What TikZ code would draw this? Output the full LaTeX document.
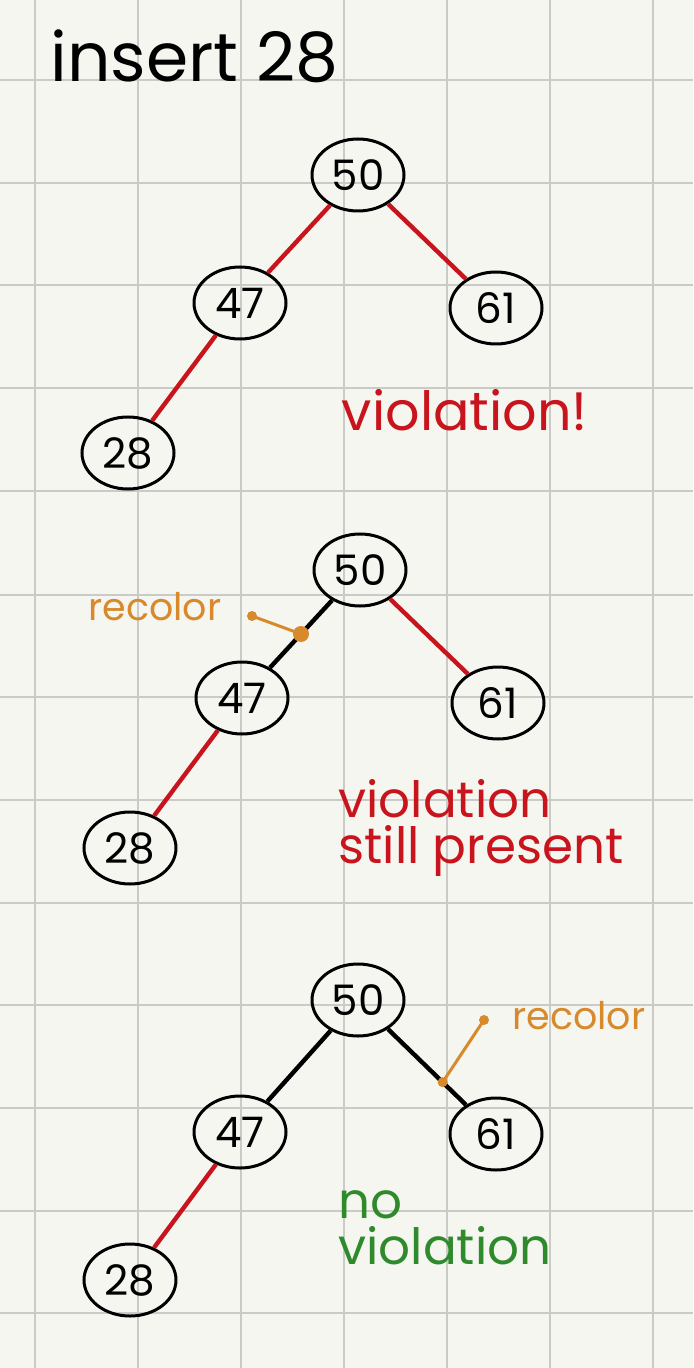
\documentclass[tikz,border=0pt]{standalone}
\usepackage{fontspec}
\setmainfont{Poppins}
\usetikzlibrary{positioning, shapes.geometric}
\definecolor{paper}{HTML}{F6F6F1}
\definecolor{gridgray}{HTML}{CACAC7}
\definecolor{inkred}{HTML}{C8141C}
\definecolor{inkorange}{HTML}{D8892C}
\definecolor{inkgreen}{HTML}{2F8A2C}
\tikzstyle{treenode} = [ellipse, draw=black, line width=1.5pt, minimum width=46pt, minimum height=36pt, inner sep=0pt, font=\fontsize{21}{21}\selectfont]
\tikzstyle{rededge} = [line width=2.2pt, draw=inkred]
\tikzstyle{blackedge} = [line width=2.2pt, draw=black]
\tikzstyle{note} = [inner sep=0pt, align=left, font=\fontsize{25}{23}\selectfont]
\tikzstyle{pointer} = [line width=1.5pt, draw=inkorange]
\tikzstyle{gridline} = [line width=1pt, draw=gridgray]

\begin{document}
\begin{tikzpicture}[x=0.5pt, y=-0.5pt, on grid]
        \useasboundingbox[fill=paper] (0,0) rectangle (693,1368);
        \foreach \gx in {35,138,241,344,447,550,653}
            \draw[gridline] (\gx,0) -- (\gx,1368);
        \foreach \gy in {80,183,285,388,491,595,697,800,903,1005,1108,1211,1313}
            \draw[gridline] (0,\gy) -- (693,\gy);

        \node (title) [note, anchor=base west, font=\fontsize{34}{34}\selectfont] at (50,82) {insert 28};

        \node (a50) [treenode] at (358,175) {50};
        \node (a47) [treenode, below left=64pt and 59pt of a50] {47};
        \node (a61) [treenode, below right=66.5pt and 69pt of a50] {61};
        \node (a28) [treenode, below left=75pt and 56pt of a47] {28};
        \node (warn1) [note, text=inkred, font=\fontsize{27}{27}\selectfont] at (465,410) {violation!};

        \node (b50) [treenode] at (360,570) {50};
        \node (b47) [treenode, below left=64pt and 59pt of b50] {47};
        \node (b61) [treenode, below right=66.5pt and 69pt of b50] {61};
        \node (b28) [treenode, below left=75pt and 56pt of b47] {28};
        \node (rc1) [note, text=inkorange, font=\fontsize{19}{19}\selectfont] at (155,607) {recolor};
        \coordinate (rc1dot) at (252,616);
        \node (warn2) [note, text=inkred, anchor=west] at (338,828) {violation\\still present};

        \node (c50) [treenode] at (358,1000) {50};
        \node (c47) [treenode, below left=66pt and 59pt of c50] {47};
        \node (c61) [treenode, below right=67pt and 69pt of c50] {61};
        \node (c28) [treenode, below left=74pt and 55pt of c47] {28};
        \node (rc2) [note, text=inkorange, font=\fontsize{19}{19}\selectfont] at (579,1016) {recolor};
        \coordinate (rc2dot) at (484,1020);
        \node (ok3) [note, text=inkgreen, anchor=west] at (338,1228) {no\\violation};

        \draw [rededge] (a50) -- (a47);
        \draw [rededge] (a50) -- (a61);
        \draw [rededge] (a47) -- (a28);

        \draw [blackedge] (b50) -- coordinate[pos=0.5] (rc1end) (b47);
        \draw [rededge] (b50) -- (b61);
        \draw [rededge] (b47) -- (b28);
        \draw [pointer] (rc1dot) -- (rc1end);
        \fill [inkorange] (rc1dot) circle (5);
        \fill [inkorange] (rc1end) circle (8);

        \draw [blackedge] (c50) -- (c47);
        \draw [blackedge] (c50) -- coordinate[pos=0.7] (rc2end) (c61);
        \draw [rededge] (c47) -- (c28);
        \draw [pointer] (rc2dot) -- (rc2end);
        \fill [inkorange] (rc2dot) circle (5);
        \fill [inkorange] (rc2end) circle (5);

        \end{tikzpicture}
\end{document}
